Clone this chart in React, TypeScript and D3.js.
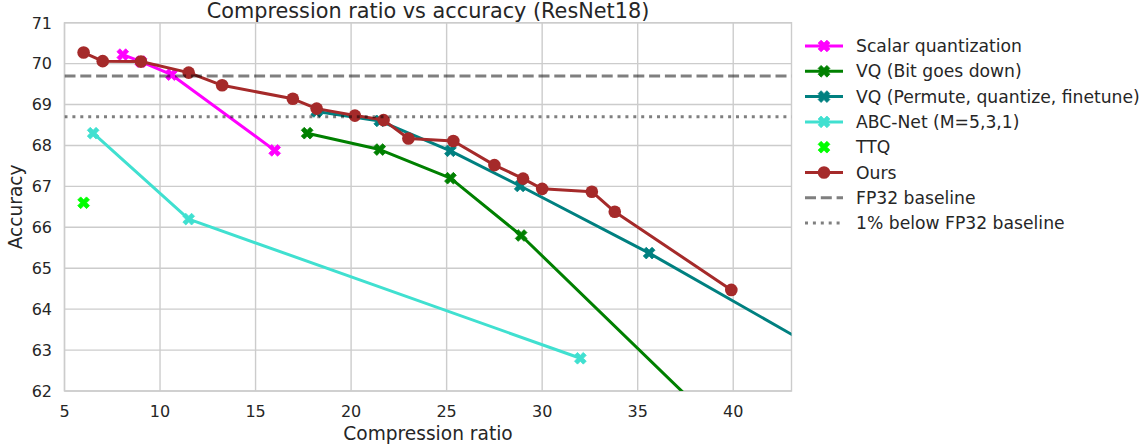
import React from 'react';
import * as d3 from 'd3';

// compression ratio / top-1 accuracy pairs
const scalarX = [8.05, 9.0, 10.6, 16.0];
const scalarY = [70.22, 70.05, 69.73, 67.88];

const bitX = [17.7, 21.5, 25.2, 28.9, 43.6];
const bitY = [68.3, 67.9, 67.2, 65.8, 59.15];

const permuteX = [18.2, 21.5, 25.2, 28.85, 35.6, 52.0];
const permuteY = [68.83, 68.6, 67.87, 67.01, 65.37, 61.0];

const abcX = [6.5, 11.5, 32.0];
const abcY = [68.3, 66.2, 62.8];

const ttqX = [6.0];
const ttqY = [66.6];

const oursX = [6.0, 7.0, 9.0, 11.5, 13.25, 16.95, 18.2, 20.2, 21.7, 23.0, 25.35, 27.5, 29.0, 30.0, 32.6, 33.8, 39.9];
const oursY = [70.27, 70.06, 70.05, 69.78, 69.47, 69.14, 68.9, 68.73, 68.62, 68.17, 68.11, 67.52, 67.19, 66.94, 66.87, 66.38, 64.47];

const fp32 = 69.7;
const fp32Minus1 = 68.7;

const xTicks = [5, 10, 15, 20, 25, 30, 35, 40];
const yTicks = [62, 63, 64, 65, 66, 67, 68, 69, 70, 71];

const series = [
  { name: 'Scalar quantization', xs: scalarX, ys: scalarY, color: '#ff00ff', marker: 'x', line: true },
  { name: 'VQ (Bit goes down)', xs: bitX, ys: bitY, color: '#008000', marker: 'x', line: true },
  { name: 'VQ (Permute, quantize, finetune)', xs: permuteX, ys: permuteY, color: '#008080', marker: 'x', line: true },
  { name: 'ABC-Net (M=5,3,1)', xs: abcX, ys: abcY, color: '#40e0d0', marker: 'x', line: true },
  { name: 'TTQ', xs: ttqX, ys: ttqY, color: '#00ff00', marker: 'x', line: false },
  { name: 'Ours', xs: oursX, ys: oursY, color: '#a52a2a', marker: 'o', line: true },
];

const W = 1146;
const H = 446;
const margin = { left: 64.5, right: W - 791.5, top: 22.7, bottom: H - 391 };
const textColor = '#262626';
const font = 'DejaVu Sans, sans-serif';

// filled "X" marker, like matplotlib's 'X'
const xMarker = (() => {
  const a = 6.2;
  const b = 2.1;
  const pts = [
    [b, a], [b, b], [a, b], [a, -b], [b, -b], [b, -a],
    [-b, -a], [-b, -b], [-a, -b], [-a, b], [-b, b], [-b, a],
  ];
  const c = Math.SQRT1_2;
  return 'M' + pts.map(([x, y]) => `${((x - y) * c).toFixed(2)},${((x + y) * c).toFixed(2)}`).join('L') + 'Z';
})();

const Marker = ({ kind, x, y, color }: { kind: string; x: number; y: number; color: string }) =>
  kind === 'o' ? (
    <circle cx={x} cy={y} r={6.3} fill={color} />
  ) : (
    <path d={xMarker} transform={`translate(${x},${y})`} fill={color} stroke={color} strokeWidth={0.8} />
  );

export default function App() {
  const x = d3.scaleLinear().domain([5, 43.05]).range([margin.left, W - margin.right]);
  const y = d3.scaleLinear().domain([62, 71]).range([H - margin.bottom, margin.top]);
  const line = d3.line<[number, number]>().x((d) => x(d[0])).y((d) => y(d[1]));

  const x0 = x.range()[0];
  const x1 = x.range()[1];
  const y0 = y.range()[0];
  const y1 = y.range()[1];

  const legendX = 805;
  const legendY = 46;
  const legendStep = 25.3;

  return (
    <svg width={W} height={H} style={{ position: 'absolute', left: 0, top: 0 }} fontFamily={font}>
      <defs>
        <clipPath id="plot">
          <rect x={x0} y={y1} width={x1 - x0} height={y0 - y1} />
        </clipPath>
      </defs>
      <rect width={W} height={H} fill="#fff" />

      {/* grid */}
      <g stroke="#cccccc" strokeWidth={1.4}>
        {xTicks.map((t) => (
          <line key={'gx' + t} x1={x(t)} x2={x(t)} y1={y0} y2={y1} />
        ))}
        {yTicks.map((t) => (
          <line key={'gy' + t} x1={x0} x2={x1} y1={y(t)} y2={y(t)} />
        ))}
      </g>
      <rect x={x0} y={y1} width={x1 - x0} height={y0 - y1} fill="none" stroke="#cccccc" strokeWidth={1.4} />

      {/* series */}
      <g clipPath="url(#plot)">
        {series.map((s) => {
          const pts = s.xs.map((v, i) => [v, s.ys[i]] as [number, number]);
          return (
            <g key={s.name}>
              {s.line && <path d={line(pts) || ''} fill="none" stroke={s.color} strokeWidth={3} strokeLinejoin="round" />}
              {pts.map((p, i) => (
                <Marker key={i} kind={s.marker} x={x(p[0])} y={y(p[1])} color={s.color} />
              ))}
            </g>
          );
        })}
        <line x1={x0} x2={x1} y1={y(fp32)} y2={y(fp32)} stroke="#000" strokeOpacity={0.5} strokeWidth={3} strokeDasharray="11,4.8" />
        <line x1={x0} x2={x1} y1={y(fp32Minus1)} y2={y(fp32Minus1)} stroke="#000" strokeOpacity={0.5} strokeWidth={3} strokeDasharray="3,4.9" />
      </g>

      {/* ticks */}
      <g fill={textColor} fontSize={16}>
        {xTicks.map((t) => (
          <text key={'tx' + t} x={x(t)} y={416.5} textAnchor="middle">
            {t}
          </text>
        ))}
        {yTicks.map((t) => (
          <text key={'ty' + t} x={52} y={y(t) + 5.8} textAnchor="end">
            {t}
          </text>
        ))}
      </g>

      <text x={(x0 + x1) / 2} y={17.5} textAnchor="middle" fontSize={20.8} fill={textColor}>
        Compression ratio vs accuracy (ResNet18)
      </text>
      <text x={(x0 + x1) / 2} y={439.5} textAnchor="middle" fontSize={18.6} fill={textColor}>
        Compression ratio
      </text>
      <text transform={`translate(22,${(y0 + y1) / 2}) rotate(-90)`} textAnchor="middle" fontSize={18.6} fill={textColor}>
        Accuracy
      </text>

      {/* legend */}
      <g fontSize={17.2} fill={textColor}>
        {series.map((s, i) => {
          const cy = legendY + i * legendStep;
          return (
            <g key={'lg' + s.name}>
              {s.line && <line x1={legendX} x2={legendX + 38} y1={cy} y2={cy} stroke={s.color} strokeWidth={3} />}
              <Marker kind={s.marker} x={legendX + 19} y={cy} color={s.color} />
              <text x={856} y={cy + 6}>
                {s.name}
              </text>
            </g>
          );
        })}
        <line x1={legendX} x2={legendX + 38} y1={legendY + 6 * legendStep} y2={legendY + 6 * legendStep} stroke="#000" strokeOpacity={0.5} strokeWidth={3} strokeDasharray="11,4.8" />
        <text x={856} y={legendY + 6 * legendStep + 6}>FP32 baseline</text>
        <line x1={legendX} x2={legendX + 38} y1={legendY + 7 * legendStep} y2={legendY + 7 * legendStep} stroke="#000" strokeOpacity={0.5} strokeWidth={3} strokeDasharray="3,4.9" />
        <text x={856} y={legendY + 7 * legendStep + 6}>1% below FP32 baseline</text>
      </g>
    </svg>
  );
}
